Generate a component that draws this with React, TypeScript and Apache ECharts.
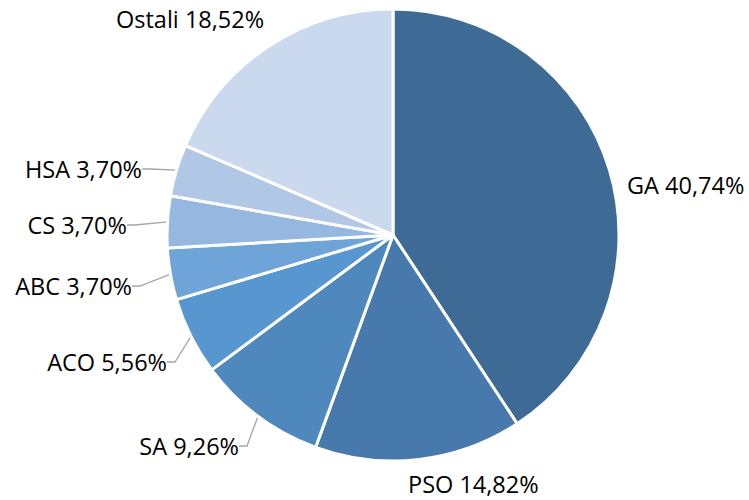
import React, { useEffect, useRef } from "react";
import * as echarts from "echarts";

const categories = ["GA", "PSO", "SA", "ACO", "ABC", "CS", "HSA", "Ostali"];
const shares = [40.74, 14.82, 9.26, 5.56, 3.7, 3.7, 3.7, 18.52];
const sliceColors = ["#3E6B95", "#4779AC", "#4F88BD", "#5796CE", "#6FA4D9", "#96B8E0", "#B0C7E5", "#CBD9EE"];
const showLeader = [false, false, true, true, true, true, true, false];
// label anchor: [x, y, align]
const labelSpots: [number, number, string][] = [
  [627, 185, "left"],
  [408, 484, "left"],
  [239, 446, "right"],
  [167, 362, "right"],
  [132, 286, "right"],
  [127, 225, "right"],
  [142, 169, "right"],
  [116, 19, "left"],
];

export default function App() {
  const ref = useRef<HTMLDivElement>(null);
  useEffect(() => {
    const chart = echarts.init(ref.current!, null, { renderer: "svg" });
    chart.setOption({
      animation: false,
      backgroundColor: "#ffffff",
      series: [
        {
          type: "pie",
          center: [393, 235],
          radius: [0, 226],
          startAngle: 90,
          clockwise: true,
          avoidLabelOverlap: false,
          itemStyle: { borderColor: "#ffffff", borderWidth: 3 },
          label: {
            show: true,
            position: "outside",
            fontFamily: "Open Sans",
            fontSize: 23.5,
            lineHeight: 20,
            color: "#000000",
            formatter: (p: any) => `${p.name} ${shares[p.dataIndex].toFixed(2).replace(".", ",")}%`,
          },
          labelLine: {
            lineStyle: { color: "#A6A6A6", width: 1.3 },
            length: 8,
            length2: 8,
          },
          labelLayout: (p: any) => {
            const s = labelSpots[p.dataIndex];
            return { x: s[0], y: s[1], align: s[2], verticalAlign: "middle" };
          },
          data: categories.map((c, i) => ({
            name: c,
            value: shares[i],
            itemStyle: { color: sliceColors[i] },
            labelLine: { show: showLeader[i] },
          })),
        },
      ],
    });
    return () => chart.dispose();
  }, []);
  return (
    <div
      ref={ref}
      style={{ position: "absolute", left: 0, top: 0, width: 749, height: 500 }}
    />
  );
}
